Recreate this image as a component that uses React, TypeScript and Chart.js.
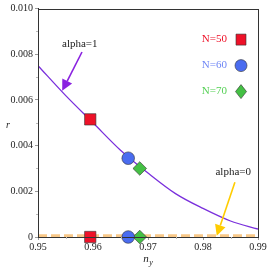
import React, { useEffect, useRef } from "react";
import { Chart, registerables } from "chart.js";
Chart.register(...registerables);

const curveX = [0.95, 0.955, 0.96, 0.965, 0.97, 0.975, 0.98, 0.985, 0.99];
const curveY = [0.0075, 0.0062, 0.005, 0.0038, 0.0028, 0.0019, 0.00125, 0.0007, 0.00035];
const zeroLineX = [0.95, 0.99];
const zeroLineY = [0.00005, 0.00005];
const seriesNames = ["N=50", "N=60", "N=70"];
const seriesX = [0.9595, 0.9664, 0.9685];
const seriesY1 = [0.00515, 0.00345, 0.003];
const seriesY0 = [0, 0, 0];
const xTicks = [0.95, 0.96, 0.97, 0.98, 0.99];
const yTicks = [0, 0.002, 0.004, 0.006, 0.008, 0.01];
const annoLabels = ["alpha=1", "alpha=0"];
const annoText = [[0.9576, 0.00843], [0.9855, 0.00283]];
const annoTail = [[0.958, 0.0081], [0.9858, 0.0024]];
const annoTip = [[0.9544, 0.0064], [0.9825, 0.00005]];

const seriesFill = ["#ee1128", "#4a6cf0", "#44c044"];
const seriesText = ["#ee1128", "#6f86f5", "#55d055"];
const seriesStyle = ["rect", "circle", "rectRot"];
const seriesRadius = [8, 6.3, 6.8];
const FONT = "'Liberation Serif', 'DejaVu Serif', serif";

const extras = {
  id: "extras",
  afterDatasetsDraw(chart: any) {
    const ctx = chart.ctx;
    const xs = chart.scales.x;
    const ys = chart.scales.y;
    const a = chart.chartArea;
    ctx.save();
    // frame
    ctx.strokeStyle = "#333";
    ctx.lineWidth = 1;
    ctx.strokeRect(Math.round(a.left) + 0.5, Math.round(a.top) + 0.5, Math.round(a.right - a.left), Math.round(a.bottom - a.top));
    // minor ticks
    ctx.strokeStyle = "#bbb";
    for (let i = 0; i < xTicks.length - 1; i++) {
      const px = Math.round(xs.getPixelForValue((xTicks[i] + xTicks[i + 1]) / 2)) + 0.5;
      ctx.beginPath();
      ctx.moveTo(px, a.bottom);
      ctx.lineTo(px, a.bottom + 2);
      ctx.stroke();
    }
    for (let i = 0; i < yTicks.length - 1; i++) {
      const py = Math.round(ys.getPixelForValue((yTicks[i] + yTicks[i + 1]) / 2)) + 0.5;
      ctx.beginPath();
      ctx.moveTo(a.left - 2, py);
      ctx.lineTo(a.left, py);
      ctx.stroke();
    }
    // legend
    ctx.font = "11px " + FONT;
    ctx.textAlign = "right";
    ctx.textBaseline = "middle";
    for (let i = 0; i < seriesNames.length; i++) {
      const y = a.top + 31 + i * 26;
      ctx.fillStyle = seriesText[i];
      ctx.fillText(seriesNames[i], a.right - 31, y);
      ctx.fillStyle = seriesFill[i];
      ctx.strokeStyle = "#333";
      ctx.lineWidth = 0.6;
      const cx = a.right - 17;
      ctx.beginPath();
      if (seriesStyle[i] === "rect") {
        ctx.rect(cx - 5, y - 5.5, 10, 11);
      } else if (seriesStyle[i] === "circle") {
        ctx.arc(cx, y, 6, 0, Math.PI * 2);
      } else {
        ctx.moveTo(cx, y - 7);
        ctx.lineTo(cx + 5.5, y);
        ctx.lineTo(cx, y + 7);
        ctx.lineTo(cx - 5.5, y);
        ctx.closePath();
      }
      ctx.fill();
      ctx.stroke();
    }
    // annotations
    const arrowColors = ["#8a22e0", "#ffcc00"];
    for (let i = 0; i < annoLabels.length; i++) {
      ctx.fillStyle = "#222";
      ctx.textAlign = "center";
      ctx.font = "11px " + FONT;
      ctx.fillText(annoLabels[i], xs.getPixelForValue(annoText[i][0]), ys.getPixelForValue(annoText[i][1]));
      const x1 = xs.getPixelForValue(annoTail[i][0]);
      const y1 = ys.getPixelForValue(annoTail[i][1]);
      const x2 = xs.getPixelForValue(annoTip[i][0]);
      const y2 = ys.getPixelForValue(annoTip[i][1]);
      const ang = Math.atan2(y2 - y1, x2 - x1);
      const hl = 11;
      const hw = 5.5;
      const bx = x2 - hl * Math.cos(ang);
      const by = y2 - hl * Math.sin(ang);
      ctx.strokeStyle = arrowColors[i];
      ctx.fillStyle = arrowColors[i];
      ctx.lineWidth = 1.6;
      ctx.beginPath();
      ctx.moveTo(x1, y1);
      ctx.lineTo(bx, by);
      ctx.stroke();
      ctx.beginPath();
      ctx.moveTo(x2, y2);
      ctx.lineTo(bx + hw * Math.sin(ang), by - hw * Math.cos(ang));
      ctx.lineTo(bx - hw * Math.sin(ang), by + hw * Math.cos(ang));
      ctx.closePath();
      ctx.fill();
    }
    // axis titles
    ctx.fillStyle = "#222";
    ctx.font = "italic 10px " + FONT;
    ctx.textAlign = "center";
    ctx.fillText("r", 8, (a.top + a.bottom) / 2 + 3);
    const tx = (a.left + a.right) / 2;
    ctx.font = "italic 11px " + FONT;
    ctx.fillText("n", tx - 2, 259);
    ctx.font = "italic 8px " + FONT;
    ctx.fillText("y", tx + 3, 263);
    ctx.restore();
  },
};

export default function App() {
  const ref = useRef<HTMLCanvasElement>(null);
  useEffect(() => {
    document.body.style.margin = "0";
    const pts = (xs: number[], ys: number[]) => xs.map((x, i) => ({ x, y: ys[i] }));
    const datasets: any[] = [
      {
        type: "line",
        label: "zero",
        data: pts(zeroLineX, zeroLineY),
        borderColor: "#f8c888",
        borderWidth: 3,
        borderDash: [9, 4],
        pointRadius: 0,
        clip: false,
        order: 3,
      },
      {
        type: "line",
        label: "curve",
        data: pts(curveX, curveY),
        borderColor: "#7a30dc",
        borderWidth: 1.3,
        pointRadius: 0,
        cubicInterpolationMode: "monotone",
        order: 2,
      },
    ];
    seriesNames.forEach((name, i) => {
      datasets.push({
        type: "scatter",
        label: name,
        data: [
          { x: seriesX[i], y: seriesY1[i] },
          { x: seriesX[i], y: seriesY0[i] },
        ],
        pointStyle: seriesStyle[i],
        pointRadius: seriesRadius[i],
        backgroundColor: seriesFill[i],
        borderColor: "#333",
        borderWidth: 0.6,
        clip: false,
        order: 1,
      });
    });
    const chart = new Chart(ref.current!, {
      type: "scatter",
      data: { datasets },
      options: {
        animation: false,
        responsive: false,
        layout: { padding: { top: 8, right: 12, left: 0, bottom: 0 } },
        plugins: { legend: { display: false }, tooltip: { enabled: false } },
        scales: {
          x: {
            type: "linear",
            min: 0.95,
            max: 0.99,
            afterBuildTicks: (s: any) => {
              s.ticks = xTicks.map((v) => ({ value: v }));
            },
            afterFit: (s: any) => {
              s.height = 33;
            },
            ticks: {
              callback: (v: any) => Number(v).toFixed(2),
              font: { family: FONT, size: 10 },
              color: "#222",
              padding: 1,
              maxRotation: 0,
            },
            grid: { drawOnChartArea: false, tickLength: 3, color: "#999" },
            border: { color: "#333" },
          },
          y: {
            type: "linear",
            min: 0,
            max: 0.01,
            afterBuildTicks: (s: any) => {
              s.ticks = yTicks.map((v) => ({ value: v }));
            },
            afterFit: (s: any) => {
              s.width = 38;
            },
            ticks: {
              callback: (v: any) => (Number(v) === 0 ? "0" : Number(v).toFixed(3)),
              font: { family: FONT, size: 10 },
              color: "#222",
              padding: 2,
            },
            grid: { drawOnChartArea: false, tickLength: 3, color: "#999" },
            border: { color: "#333" },
          },
        },
      },
      plugins: [extras],
    });
    return () => chart.destroy();
  }, []);
  return (
    <div style={{ position: "absolute", left: 0, top: 0, width: 270, height: 270, background: "#fff" }}>
      <canvas ref={ref} width={270} height={270} style={{ width: 270, height: 270 }} />
    </div>
  );
}
